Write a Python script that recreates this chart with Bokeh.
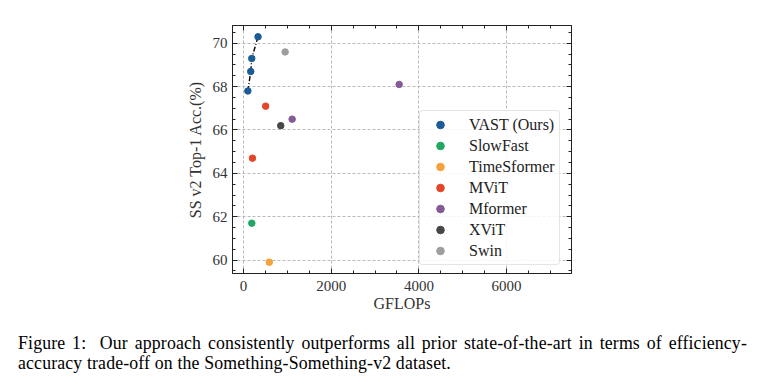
from bokeh.plotting import figure
from bokeh.models import (Range1d, LinearAxis, SingleIntervalTicker, Legend, LegendItem, Div)
from bokeh.layouts import column
from bokeh.embed import file_html
from bokeh.resources import INLINE

# ---- data (GFLOPs, top-1 accuracy) ----
vast_x = [100, 166, 189, 332]
vast_y = [67.8, 68.7, 69.3, 70.3]
slowfast_x = [190]
slowfast_y = [61.7]
timesformer_x = [590]
timesformer_y = [59.9]
mvit_x = [205, 506]
mvit_y = [64.7, 67.1]
mformer_x = [1110, 3550]
mformer_y = [66.5, 68.1]
xvit_x = [850]
xvit_y = [66.2]
swin_x = [950]
swin_y = [69.6]

series = [
    ("VAST (Ours)", vast_x, vast_y, "#1b5c96"),
    ("SlowFast", slowfast_x, slowfast_y, "#20a862"),
    ("TimeSformer", timesformer_x, timesformer_y, "#f5a23a"),
    ("MViT", mvit_x, mvit_y, "#e4462a"),
    ("Mformer", mformer_x, mformer_y, "#845b97"),
    ("XViT", xvit_x, xvit_y, "#474747"),
    ("Swin", swin_x, swin_y, "#9e9e9e"),
]

x_ticks_interval = 2000
y_ticks_interval = 2
caption_lines = [
    "Figure 1:&nbsp; Our approach consistently outperforms all prior state-of-the-art in terms of efficiency-",
    "accuracy trade-off on the Something-Something-v2 dataset.",
]

FONT = "Liberation Serif"

p = figure(width=751, height=330, output_backend="svg", toolbar_location=None,
           x_range=Range1d(-250, 7480), y_range=Range1d(59.38, 70.82),
           min_border_left=232, min_border_right=180, min_border_top=25, min_border_bottom=57)
p.background_fill_color = "white"
p.border_fill_color = "white"
p.outline_line_color = "#222222"
p.outline_line_width = 1

xt = SingleIntervalTicker(interval=x_ticks_interval, num_minor_ticks=4)
yt = SingleIntervalTicker(interval=y_ticks_interval, num_minor_ticks=4)

def style_axis(ax, labels=True):
    ax.axis_line_color = "#222222"
    ax.major_tick_in = 5
    ax.major_tick_out = 0
    ax.minor_tick_in = 3
    ax.minor_tick_out = 0
    ax.major_tick_line_color = "#222222"
    ax.minor_tick_line_color = "#222222"
    ax.major_label_text_font = FONT
    ax.major_label_text_font_size = "15px"
    ax.major_label_text_color = "#333333" if labels else None
    ax.axis_label_text_font = FONT
    ax.axis_label_text_font_size = "16px"
    ax.axis_label_text_font_style = "normal"
    ax.axis_label_text_color = "#333333"

p.xaxis[0].ticker = xt
p.yaxis[0].ticker = yt
style_axis(p.xaxis[0])
style_axis(p.yaxis[0])
p.xaxis[0].axis_label = "GFLOPs"
p.yaxis[0].axis_label = "SS v2 Top-1 Acc.(%)"
p.xaxis[0].major_label_standoff = 7
p.xaxis[0].axis_label_standoff = 1
p.yaxis[0].major_label_standoff = 5
p.yaxis[0].axis_label_standoff = 6

top = LinearAxis(ticker=SingleIntervalTicker(interval=x_ticks_interval, num_minor_ticks=4))
style_axis(top, labels=False)
top.major_label_text_font_size = "0px"
p.add_layout(top, "above")
right = LinearAxis(ticker=SingleIntervalTicker(interval=y_ticks_interval, num_minor_ticks=4))
style_axis(right, labels=False)
right.major_label_text_font_size = "0px"
p.add_layout(right, "right")

p.xgrid.ticker = xt
p.ygrid.ticker = yt
p.grid.grid_line_color = "#a8a8a8"
p.grid.grid_line_dash = "3 2"
p.grid.grid_line_width = 0.8

# VAST trend line
p.line(vast_x, vast_y, line_color="black", line_width=1.4, line_dash="5 2 1 2")

items = []
for name, xs, ys, col in series:
    r = p.scatter(xs, ys, size=6.5, marker="circle", fill_color=col, line_color=col)
    items.append(LegendItem(label=name, renderers=[r]))

legend = Legend(items=items, location=(187, 8), padding=4, spacing=2,
                glyph_width=32, glyph_height=19, label_height=19, label_standoff=13,
                label_text_font=FONT, label_text_font_size="16px", label_text_color="#222222",
                border_line_color="#cccccc", border_line_width=1,
                background_fill_color="white", background_fill_alpha=0.85, margin=0)
try:
    legend.border_radius = 4
except Exception:
    pass
p.add_layout(legend, "center")

cap_html = ('<div style="word-spacing:2.2px">' + caption_lines[0] + '</div>'
            '<div>' + caption_lines[1] + '</div>')
caption = Div(text=cap_html, width=751, margin=0,
              styles={"font-family": FONT, "font-size": "17.8px", "line-height": "19.7px",
                      "letter-spacing": "0.15px",
                      "color": "black", "padding-left": "18px", "padding-top": "4px",
                      "white-space": "nowrap"})

layout = column(p, caption, spacing=0)
open("out.html", "w").write(file_html(layout, INLINE))
